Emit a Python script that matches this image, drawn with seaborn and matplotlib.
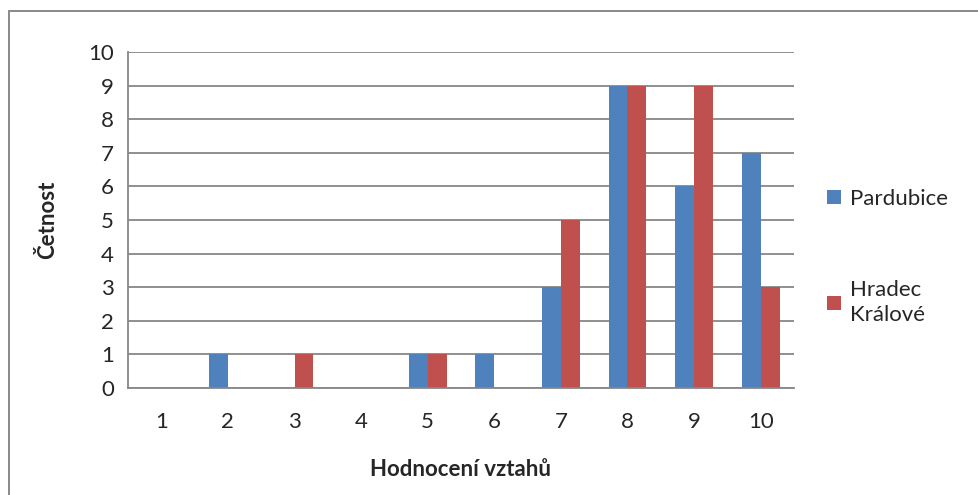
import seaborn as sns
import matplotlib.pyplot as plt
import matplotlib.patches as mpatches
import pandas as pd

# hodnoceni vztahu 1..10, cetnost po mestech
ratings = ["1", "2", "3", "4", "5", "6", "7", "8", "9", "10"]
pardubice = [0, 1, 0, 0, 1, 1, 3, 9, 6, 7]
hradec = [0, 0, 1, 0, 1, 0, 5, 9, 9, 3]
series_names = ["Pardubice", "Hradec\nKrálové"]
colors = ["#4F81BD", "#C0504D"]

df = pd.DataFrame({
    "rating": ratings * 2,
    "count": pardubice + hradec,
    "city": [series_names[0]] * len(ratings) + [series_names[1]] * len(ratings),
})

sns.set_style("white")
plt.rcParams['font.family'] = ['Lato', 'DejaVu Sans']

fig = plt.figure(figsize=(9.79, 4.95), dpi=100)
ax = fig.add_axes([128 / 979, 1 - 388 / 495, (794 - 128) / 979, (388 - 52) / 495])

sns.barplot(data=df, x="rating", y="count", hue="city", order=ratings,
            hue_order=series_names, palette=colors, saturation=1, width=0.57,
            edgecolor="none", linewidth=0, ax=ax, legend=True)

grid_c = "#878787"
ax.set_ylim(0, 10)
ax.set_xlim(-0.5, len(ratings) - 0.5)
ax.set_yticks(range(0, 11))
ax.yaxis.grid(True, color=grid_c, linewidth=1.3)
ax.set_axisbelow(True)
for side in ["top", "right"]:
    ax.spines[side].set_visible(False)
for side in ["left", "bottom"]:
    ax.spines[side].set_color(grid_c)
    ax.spines[side].set_linewidth(1.3)

# x: boundary ticks between categories, labels without ticks
ax.set_xticks([i - 0.5 for i in range(len(ratings) + 1)], minor=True)
ax.tick_params(axis="x", which="major", length=0, pad=17, labelsize=16)
ax.tick_params(axis="x", which="minor", length=7, width=1.3, color=grid_c, direction="out")
ax.tick_params(axis="y", which="major", length=7, width=1.3, color=grid_c,
               direction="out", labelsize=16, pad=3)

ax.set_xlabel("Hodnocení vztahů", fontsize=16, fontweight="bold", labelpad=20)
ax.set_ylabel("Četnost", fontsize=16, fontweight="bold", labelpad=22)

handles, labels = ax.get_legend_handles_labels()
leg = ax.legend(handles, labels, loc="center left", bbox_to_anchor=(1.02, 0.39),
                frameon=False, fontsize=16, handlelength=0.6, handleheight=0.6,
                handletextpad=0.4, labelspacing=3.2)
for t in leg.get_texts():
    t.set_linespacing(1.35)

# chart area frame: only left and top edges fall inside the image
W, H = 979, 495
frame_c = "#8c8c8c"
fig.add_artist(mpatches.Rectangle((8 / W, 0), 2 / W, (H - 10) / H, transform=fig.transFigure,
                                  facecolor=frame_c, edgecolor="none", zorder=10))
fig.add_artist(mpatches.Rectangle((8 / W, (H - 12) / H), (W - 8) / W, 2 / H,
                                  transform=fig.transFigure,
                                  facecolor=frame_c, edgecolor="none", zorder=10))

fig.savefig("out.png", dpi=100)
